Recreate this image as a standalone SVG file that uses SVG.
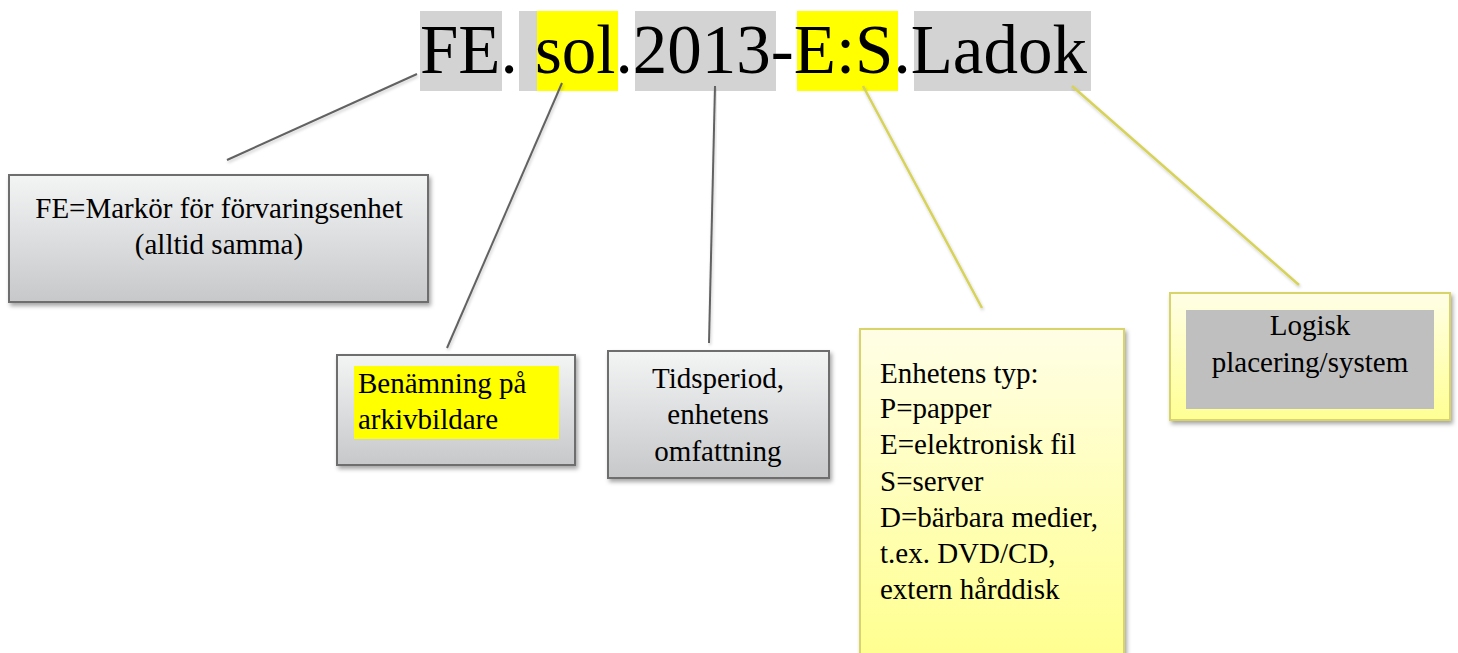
<svg xmlns="http://www.w3.org/2000/svg" width="1458" height="653" viewBox="0 0 1458 653">
  <defs>
    <linearGradient id="gGray" x1="0" y1="0" x2="0" y2="1">
      <stop offset="0" stop-color="#f3f4f4"/>
      <stop offset="1" stop-color="#c7c8ca"/>
    </linearGradient>
    <linearGradient id="gYellow" x1="0" y1="0" x2="0" y2="1">
      <stop offset="0" stop-color="#fffee6"/>
      <stop offset="1" stop-color="#ffff94"/>
    </linearGradient>
    <linearGradient id="gYellowD" x1="0" y1="0" x2="0" y2="1">
      <stop offset="0" stop-color="#fffee6"/>
      <stop offset="1" stop-color="#ffff8c"/>
    </linearGradient>
    <filter id="shadow" x="-10%" y="-10%" width="130%" height="130%">
      <feDropShadow dx="2" dy="3" stdDeviation="2" flood-color="#000" flood-opacity="0.35"/>
    </filter>
    <filter id="lshadow" x="-10%" y="-10%" width="130%" height="130%">
      <feDropShadow dx="1" dy="2" stdDeviation="1.5" flood-color="#000" flood-opacity="0.2"/>
    </filter>
  </defs>
  <style>
    text { font-family: "Liberation Serif", "Times New Roman", serif; fill: #000; }
    .title { font-size: 69px; }
    .lbl { font-size: 29px; }
    .mid { text-anchor: middle; }
    .boxg { fill: url(#gGray); stroke: #6e6e6e; stroke-width: 2; filter: url(#shadow); }
    .boxy { stroke: #d8d46a; stroke-width: 2; filter: url(#shadow); }
    .cg { stroke: #626262; stroke-width: 2; fill: none; filter: url(#lshadow); }
    .cy { stroke: #d6d25a; stroke-width: 2.5; fill: none; filter: url(#lshadow); }
    .hg { fill: #d3d3d3; }
    .hy { fill: #ffff00; }
  </style>
  <rect width="1458" height="653" fill="#fff"/>

  <g id="title">
    <rect class="hg" x="420" y="11" width="82" height="80"/>
    <rect class="hg" x="519" y="11" width="18" height="80"/>
    <rect class="hy" x="537" y="11" width="81" height="80"/>
    <rect class="hg" x="635" y="11" width="141" height="80"/>
    <rect class="hy" x="797" y="11" width="101" height="80"/>
    <rect class="hg" x="914" y="11" width="177" height="80"/>
    <text class="title" x="420" y="73">FE. sol.2013-E:S.Ladok</text>
  </g>

  <g id="connectors">
    <line class="cg" x1="417" y1="74" x2="227" y2="160"/>
    <line class="cg" x1="562" y1="83" x2="447" y2="348"/>
    <line class="cg" x1="715" y1="86" x2="709" y2="343"/>
    <line class="cy" x1="863" y1="86" x2="982" y2="308"/>
    <line class="cy" x1="1072" y1="86" x2="1299" y2="285"/>
  </g>

  <g id="node-fe">
    <rect class="boxg" x="9" y="175" width="419" height="127"/>
    <text class="lbl mid" x="219" y="218">FE=Markör för förvaringsenhet</text>
    <text class="lbl mid" x="219" y="254">(alltid samma)</text>
  </g>

  <g id="node-benamning">
    <rect class="boxg" x="337" y="355" width="238" height="110"/>
    <rect class="hy" x="354" y="366" width="205" height="73"/>
    <text class="lbl" x="358" y="393">Benämning på</text>
    <text class="lbl" x="358" y="429">arkivbildare</text>
  </g>

  <g id="node-tidsperiod">
    <rect class="boxg" x="608" y="351" width="221" height="127"/>
    <text class="lbl mid" x="718" y="388">Tidsperiod,</text>
    <text class="lbl mid" x="718" y="424">enhetens</text>
    <text class="lbl mid" x="718" y="461">omfattning</text>
  </g>

  <g id="node-typ">
    <rect class="boxy" fill="url(#gYellowD)" x="860" y="329" width="264" height="340"/>
    <text class="lbl" x="880" y="383">Enhetens typ:</text>
    <text class="lbl" x="880" y="418">P=papper</text>
    <text class="lbl" x="880" y="454">E=elektronisk fil</text>
    <text class="lbl" x="880" y="491">S=server</text>
    <text class="lbl" x="880" y="527">D=bärbara medier,</text>
    <text class="lbl" x="880" y="563">t.ex. DVD/CD,</text>
    <text class="lbl" x="880" y="599">extern hårddisk</text>
  </g>

  <g id="node-logisk">
    <rect class="boxy" fill="url(#gYellow)" x="1170" y="293" width="280" height="127"/>
    <rect x="1186" y="310" width="248" height="99" fill="#bfbfbf"/>
    <text class="lbl mid" x="1310" y="335">Logisk</text>
    <text class="lbl mid" x="1310" y="372">placering/system</text>
  </g>
</svg>
